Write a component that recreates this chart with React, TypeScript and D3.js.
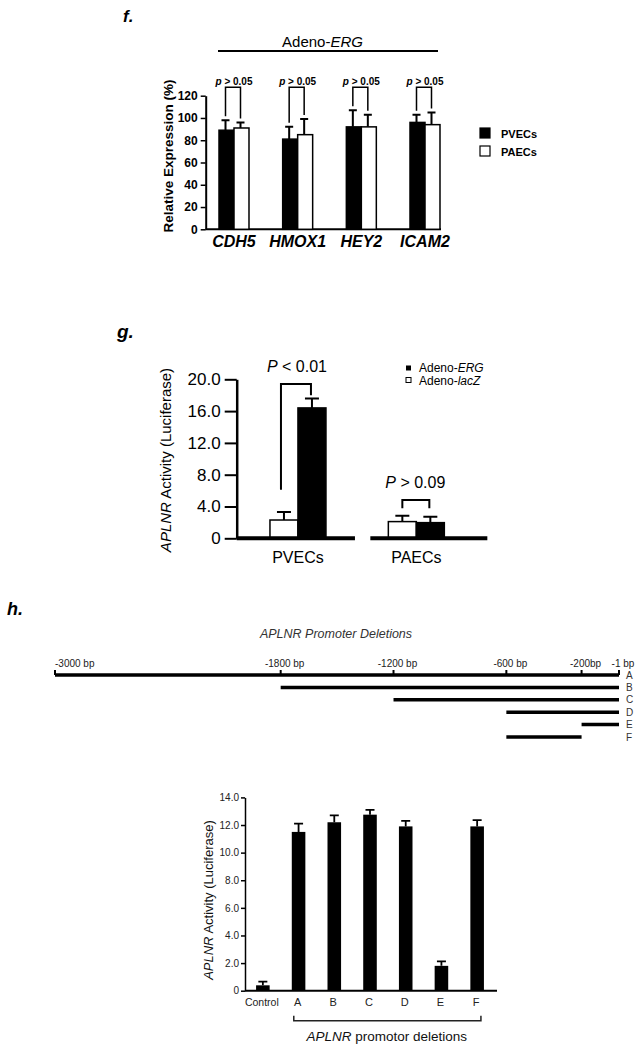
import React, { useEffect, useRef } from 'react'
import * as d3 from 'd3'

const FONT = '"Liberation Sans", Arial, Helvetica, sans-serif'

// ---- panel f: relative expression after Adeno-ERG
const genes = ['CDH5', 'HMOX1', 'HEY2', 'ICAM2']
const cellTypes = ['PVECs', 'PAECs']
const pvecExpr = [89, 81, 92, 96]
const pvecExprSd = [9, 11, 15, 7]
const paecExpr = [91, 85, 92, 94]
const paecExprSd = [5, 14, 11, 11]
const exprTicks = [0, 20, 40, 60, 80, 100, 120]
const exprBracketTop = 127.7

// ---- panel g: APLNR luciferase activity
const gGroups = ['PVECs', 'PAECs']
const gSeries = ['Adeno-lacZ', 'Adeno-ERG']
const lacZActivity = [2.3, 2.1]
const lacZSd = [1.0, 0.75]
const ergActivity = [16.4, 1.97]
const ergSd = [1.2, 0.75]
const gTicks = [0, 4, 8, 12, 16, 20]
const gPText = ['< 0.01', '> 0.09']
const gBracketTop = [19.4, 4.82]
const gBracketLeftEnd = [6.1, 3.77]
const gBracketRightEnd = [18.0, 3.77]

// ---- panel h: promoter deletion constructs
const promoterMarks = [-3000, -1800, -1200, -600, -200, -1]
const markLabels = ['-3000 bp', '-1800 bp', '-1200 bp', '-600 bp', '-200bp', '-1 bp']
const constructs = ['A', 'B', 'C', 'D', 'E', 'F']
const constructStart = [-3000, -1800, -1200, -600, -200, -600]
const constructEnd = [-1, -1, -1, -1, -1, -200]
const hCategories = ['Control', 'A', 'B', 'C', 'D', 'E', 'F']
const hActivity = [0.39, 11.5, 12.2, 12.75, 11.9, 1.8, 11.9]
const hSd = [0.27, 0.6, 0.5, 0.35, 0.4, 0.33, 0.45]
const hTicks = [0, 2, 4, 6, 8, 10, 12, 14]

type Sel = d3.Selection<any, unknown, null, undefined>

// text made of plain / italic pieces
function richText(g: Sel, x: number, y: number, parts: [string, boolean][], size: number, anchor = 'middle', weight = 'normal', fill = '#000') {
    const t = g.append('text')
        .attr('x', x).attr('y', y)
        .attr('text-anchor', anchor)
        .attr('font-family', FONT)
        .attr('font-size', size)
        .attr('font-weight', weight)
        .attr('fill', fill)
    parts.forEach(([s, it]) => {
        t.append('tspan').attr('font-style', it ? 'italic' : 'normal').text(s)
    })
    return t
}

function vertText(g: Sel, cx: number, cy: number, parts: [string, boolean][], size: number, weight = 'normal', fill = '#000') {
    const t = g.append('text')
        .attr('transform', `translate(${cx},${cy}) rotate(-90)`)
        .attr('dy', '0.35em')
        .attr('text-anchor', 'middle')
        .attr('font-family', FONT)
        .attr('font-size', size)
        .attr('font-weight', weight)
        .attr('fill', fill)
    parts.forEach(([s, it]) => {
        t.append('tspan').attr('font-style', it ? 'italic' : 'normal').text(s)
    })
}

function styleAxis(ax: Sel, size: number, weight: string, domainW: number, tickW: number, fill = '#000') {
    ax.attr('font-family', FONT)
    ax.select('.domain').attr('stroke', '#000').attr('stroke-width', domainW)
    ax.selectAll('.tick line').attr('stroke', '#000').attr('stroke-width', tickW)
    ax.selectAll('.tick text').attr('font-size', size).attr('font-weight', weight).attr('fill', fill)
}

export default function App() {
    const ref = useRef<SVGSVGElement>(null)

    useEffect(() => {
        draw()
    }, [])

    const draw = () => {
        const svg = d3.select(ref.current) as Sel
        svg.selectAll('*').remove()
        drawF(svg.append('g'))
        drawG(svg.append('g'))
        drawH(svg.append('g'))
    }

    const drawF = (g: Sel) => {
        richText(g, 123, 22, [['f.', true]], 17, 'start', 'bold')

        const y = d3.scaleLinear().domain([0, 120]).range([229.3, 95.7])
        const x0 = d3.scaleBand().domain(genes).range([205.7, 453.3]).paddingInner(0.529).paddingOuter(0.209)
        const x1 = d3.scaleBand().domain(cellTypes).range([0, x0.bandwidth()])

        // Adeno-ERG header
        richText(g, 322.5, 47, [['Adeno-', false], ['ERG', true]], 15)
        g.append('line').attr('x1', 218).attr('x2', 438).attr('y1', 51).attr('y2', 51)
            .attr('stroke', '#000').attr('stroke-width', 2)

        const ax = g.append('g').attr('transform', 'translate(205.7,0)')
            .call(d3.axisLeft(y).tickValues(exprTicks).tickSize(5).tickSizeOuter(0).tickPadding(3))
        styleAxis(ax, 12, 'bold', 2, 1.5)

        g.append('line').attr('x1', 205.7).attr('x2', 441).attr('y1', y(0)).attr('y2', y(0))
            .attr('stroke', '#000').attr('stroke-width', 2)

        const rows = genes.map((gene, i) => ({
            gene,
            vals: [
                { k: 'PVECs', v: pvecExpr[i], sd: pvecExprSd[i] },
                { k: 'PAECs', v: paecExpr[i], sd: paecExprSd[i] },
            ],
        }))

        const grp = g.selectAll('g.gene').data(rows).join('g')
            .attr('class', 'gene')
            .attr('transform', d => `translate(${x0(d.gene)},0)`)

        grp.selectAll('rect').data(d => d.vals).join('rect')
            .attr('x', d => x1(d.k)!)
            .attr('y', d => y(d.v))
            .attr('width', x1.bandwidth())
            .attr('height', d => y(0) - y(d.v))
            .attr('fill', d => d.k === 'PVECs' ? '#000' : '#fff')
            .attr('stroke', '#000').attr('stroke-width', 1.5)

        grp.selectAll('path.err').data(d => d.vals).join('path')
            .attr('class', 'err')
            .attr('d', d => {
                const cx = x1(d.k)! + x1.bandwidth() / 2 - 1
                return `M${cx},${y(d.v)}V${y(d.v + d.sd)}M${cx - 4},${y(d.v + d.sd)}H${cx + 4}`
            })
            .attr('stroke', '#000').attr('stroke-width', 2).attr('fill', 'none')

        grp.append('path')
            .attr('d', d => {
                const xl = x1('PVECs')! + x1.bandwidth() / 2 - 1
                const xr = x1('PAECs')! + x1.bandwidth() / 2 - 1
                const yl = y(d.vals[0].v + d.vals[0].sd) - 4
                const yr = y(d.vals[1].v + d.vals[1].sd) - 4
                return `M${xl},${yl}V${y(exprBracketTop)}H${xr}V${yr}`
            })
            .attr('stroke', '#000').attr('stroke-width', 1.5).attr('fill', 'none')

        rows.forEach(d => {
            const cx = x0(d.gene)! + x0.bandwidth() / 2
            richText(g, cx, 84.5, [['p', true], [' > 0.05', false]], 10, 'middle', 'bold')
            richText(g, cx, 247, [[d.gene, true]], 16, 'middle', 'bold')
        })

        vertText(g, 168, 156, [['Relative Expression (%)', false]], 13.5, 'bold')

        // legend
        cellTypes.forEach((c, i) => {
            g.append('rect').attr('x', 480).attr('y', 128 + i * 18).attr('width', 10).attr('height', 10)
                .attr('fill', i === 0 ? '#000' : '#fff').attr('stroke', '#000').attr('stroke-width', 1.2)
            richText(g, 501, 137.5 + i * 18, [[c, false]], 11, 'start', 'bold')
        })
    }

    const drawG = (g: Sel) => {
        richText(g, 117, 338, [['g.', true]], 19, 'start', 'bold')

        const y = d3.scaleLinear().domain([0, 20]).range([538.3, 379.3])
        const x0 = d3.scaleBand().domain(gGroups).range([236.7, 477.6]).paddingInner(0.527).paddingOuter(0.281)
        const x1 = d3.scaleBand().domain(gSeries).range([0, x0.bandwidth()])

        const ax = g.append('g').attr('transform', 'translate(236.7,0)')
            .call(d3.axisLeft(y).tickValues(gTicks).tickSize(12).tickSizeOuter(0).tickPadding(4)
                .tickFormat(d => (+d === 0 ? '0' : (+d).toFixed(1))))
        styleAxis(ax, 17, 'normal', 2.5, 2)

        const rows = gGroups.map((grp, i) => ({
            grp,
            vals: [
                { k: 'Adeno-lacZ', v: lacZActivity[i], sd: lacZSd[i] },
                { k: 'Adeno-ERG', v: ergActivity[i], sd: ergSd[i] },
            ],
        }))

        const grp = g.selectAll('g.grp').data(rows).join('g')
            .attr('class', 'grp')
            .attr('transform', d => `translate(${x0(d.grp)},0)`)

        grp.selectAll('rect').data(d => d.vals).join('rect')
            .attr('x', d => x1(d.k)!)
            .attr('y', d => y(d.v))
            .attr('width', x1.bandwidth())
            .attr('height', d => y(0) - y(d.v))
            .attr('fill', d => d.k === 'Adeno-ERG' ? '#000' : '#fff')
            .attr('stroke', '#000').attr('stroke-width', 1.5)

        grp.selectAll('path.err').data(d => d.vals).join('path')
            .attr('class', 'err')
            .attr('d', d => {
                const cx = x1(d.k)! + x1.bandwidth() / 2
                return `M${cx},${y(d.v)}V${y(d.v + d.sd)}M${cx - 7},${y(d.v + d.sd)}H${cx + 7}`
            })
            .attr('stroke', '#000').attr('stroke-width', 2).attr('fill', 'none')

        // broken baseline
        const b0 = x0('PVECs')!, b1 = x0('PAECs')!, bw = x0.bandwidth()
        g.append('path')
            .attr('d', `M236.7,${y(0)}H${b0 + bw + 29}M${b1 - 18},${y(0)}H${b1 + bw + 43}`)
            .attr('stroke', '#000').attr('stroke-width', 4)

        // significance brackets
        rows.forEach((d, i) => {
            const xl = x0(d.grp)! + x1('Adeno-lacZ')! + x1.bandwidth() / 2 - (i === 0 ? 3 : 0)
            const xr = x0(d.grp)! + x1('Adeno-ERG')! + x1.bandwidth() / 2 - 1
            g.append('path')
                .attr('d', `M${xl},${y(gBracketLeftEnd[i])}V${y(gBracketTop[i])}H${xr}V${y(gBracketRightEnd[i])}`)
                .attr('stroke', '#000').attr('stroke-width', 2).attr('fill', 'none')
            richText(g, x0(d.grp)! + bw / 2 - 1, y(gBracketTop[i]) - 12, [['P', true], [' ' + gPText[i], false]], 16)
            richText(g, x0(d.grp)! + bw / 2, 563, [[d.grp, false]], 16)
        })

        vertText(g, 166, 460, [['APLNR', true], [' Activity (Luciferase)', false]], 15)

        // legend
        g.append('rect').attr('x', 406).attr('y', 365.5).attr('width', 5).attr('height', 5).attr('fill', '#000')
        richText(g, 419, 372, [['Adeno-', false], ['ERG', true]], 12)
            .attr('text-anchor', 'start')
        g.append('rect').attr('x', 406).attr('y', 377.5).attr('width', 5).attr('height', 5)
            .attr('fill', '#fff').attr('stroke', '#000').attr('stroke-width', 1)
        richText(g, 419, 384.5, [['Adeno-', false], ['lacZ', true]], 12)
            .attr('text-anchor', 'start')
    }

    const drawH = (g: Sel) => {
        richText(g, 7, 615, [['h.', true]], 18, 'start', 'bold')

        // promoter map
        const xr = d3.scaleLinear().domain([-3000, -1]).range([55, 619])
        const yr = d3.scalePoint().domain(constructs).range([675, 737])

        richText(g, 336, 638, [['APLNR Promoter Deletions', true]], 12.5, 'middle', 'normal', '#333')

        g.selectAll('line.construct').data(constructs).join('line')
            .attr('class', 'construct')
            .attr('x1', (d, i) => xr(constructStart[i]))
            .attr('x2', (d, i) => xr(constructEnd[i]))
            .attr('y1', d => yr(d)!)
            .attr('y2', d => yr(d)!)
            .attr('stroke', '#000').attr('stroke-width', 3.5)

        g.selectAll('line.mark').data(promoterMarks).join('line')
            .attr('class', 'mark')
            .attr('x1', d => xr(d)).attr('x2', d => xr(d))
            .attr('y1', yr('A')!).attr('y2', yr('A')! - 5)
            .attr('stroke', '#000').attr('stroke-width', 2)

        promoterMarks.forEach((m, i) => {
            richText(g, i === 0 ? xr(m) : xr(m) + 4, 667, [[markLabels[i], false]], 10, i === 0 ? 'start' : 'middle', 'normal', '#222')
        })

        constructs.forEach(c => {
            richText(g, 626, yr(c)! + 3.5, [[c, false]], 10, 'start', 'normal', '#333')
        })

        // activity bar chart
        const y = d3.scaleLinear().domain([0, 14]).range([990.7, 797.4])
        const x = d3.scaleBand().domain(hCategories).range([245, 495]).paddingInner(0.62).paddingOuter(0.31)

        const ax = g.append('g').attr('transform', 'translate(245,0)')
            .call(d3.axisLeft(y).tickValues(hTicks).tickSize(4).tickSizeOuter(0).tickPadding(2)
                .tickFormat(d => (+d === 0 ? '0' : (+d).toFixed(1))))
        styleAxis(ax, 10, 'normal', 1.5, 1.5, '#222')

        g.append('line').attr('x1', 245).attr('x2', 497).attr('y1', y(0)).attr('y2', y(0))
            .attr('stroke', '#000').attr('stroke-width', 2)

        g.selectAll('rect.hbar').data(hCategories).join('rect')
            .attr('class', 'hbar')
            .attr('x', d => x(d)!)
            .attr('y', (d, i) => y(hActivity[i]))
            .attr('width', x.bandwidth())
            .attr('height', (d, i) => y(0) - y(hActivity[i]))
            .attr('fill', '#000')

        g.selectAll('path.herr').data(hCategories).join('path')
            .attr('class', 'herr')
            .attr('d', (d, i) => {
                const cx = x(d)! + x.bandwidth() / 2
                const top = y(hActivity[i] + hSd[i])
                return `M${cx},${y(hActivity[i])}V${top}M${cx - 4.5},${top}H${cx + 4.5}`
            })
            .attr('stroke', '#000').attr('stroke-width', 1.8).attr('fill', 'none')

        hCategories.forEach(c => {
            richText(g, x(c)! + x.bandwidth() / 2 - 1, 1005.5, [[c, false]], c === 'Control' ? 10.5 : 11, 'middle', 'normal', '#222')
        })

        const bl = x('A')! + 2, br = x('F')! + x.bandwidth() - 3
        g.append('path')
            .attr('d', `M${bl},1015.7V1020.7H${br}V1015.7`)
            .attr('stroke', '#222').attr('stroke-width', 1.5).attr('fill', 'none')
        richText(g, 386.7, 1041, [['APLNR', true], [' promotor deletions', false]], 13.5, 'middle', 'normal', '#111')

        vertText(g, 208, 900, [['APLNR', true], [' Activity (Luciferase)', false]], 13, 'normal', '#111')
    }

    return (
        <svg ref={ref} width={639} height={1050}
            style={{ position: 'absolute', left: 0, top: 0, background: '#fff' }} />
    )
}
